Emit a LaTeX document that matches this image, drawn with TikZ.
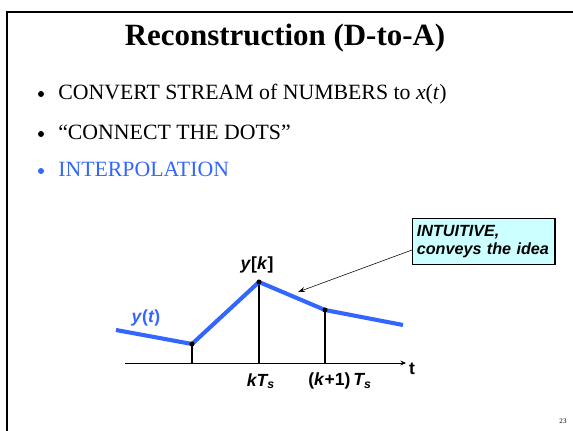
\documentclass[tikz,border=0pt]{standalone}
\usepackage{fontspec}
\setmainfont{Liberation Serif}
\newfontfamily\arialfont{Liberation Sans}
\usetikzlibrary{arrows.meta}
\definecolor{slideblue}{RGB}{51,102,255}
\definecolor{notecyan}{RGB}{204,255,255}

\tikzset{
	signal/.style={slideblue, line width=2.9pt, line join=round},
	stem/.style={line width=1.4pt},
	sample/.style={circle, fill=black, inner sep=0pt, minimum size=3.6pt},
	plotlabel/.style={font=\arialfont\bfseries\fontsize{12.5}{14}\selectfont, inner sep=0pt},
	bulletline/.style={anchor=base west, inner sep=0pt, font=\fontsize{15.5}{18}\selectfont}
}

\begin{document}
\begin{tikzpicture}[x=0.025cm, y=-0.025cm]
	\useasboundingbox (0, 0) rectangle (573, 431);
	% Slide frame and text:
	\draw[line width=1.8pt] (7, 431) -- (7, 12) -- (573, 12);
	\node[anchor=base, inner sep=0pt, font=\bfseries\fontsize{22}{26}\selectfont] (title) at (285, 46){Reconstruction (D-to-A)};
	\node[bulletline] (convert) at (58, 100){CONVERT STREAM of NUMBERS to \textit{x}(\textit{t})};
	\node[bulletline] (dots) at (58, 140){``CONNECT THE DOTS''};
	\node[bulletline, text=slideblue] (interp) at (58, 177){INTERPOLATION};
	\foreach \yb/\col in {100/black, 140/black, 177/slideblue}
		\fill[\col] (41, \yb-6) circle (3);
	\node[anchor=center, inner sep=0pt, font=\fontsize{5}{6}\selectfont] (page) at (563, 421){23};
	% Axis, samples and signal:
	\coordinate (axisstart) at (125, 363);
	\coordinate (axisend) at (406, 363);
	\draw[line width=0.7pt, -{Stealth[length=4pt, width=3.5pt]}] (axisstart) -- (axisend);
	\node[plotlabel] (tlabel) at (412, 369){t};
	\coordinate (left) at (116, 330);
	\coordinate (s0) at (192, 344);
	\coordinate (s1) at (259, 282);
	\coordinate (s2) at (325, 310);
	\coordinate (right) at (403, 325);
	\foreach \s in {s0, s1, s2}
		\draw[stem] (\s) -- (\s |- axisstart);
	\draw[signal] (left) -- (s0) -- (s1) -- (s2) -- (right);
	\foreach \s in {s0, s1, s2}
		\node[sample] at (\s){};
	\node[plotlabel, text=slideblue] (ylabel) at (146, 318){\textit{y}(\textit{t})};
	\node[plotlabel] (yk) at (257, 265){\textit{y}[\textit{k}]};
	\node[plotlabel] (kts) at (261, 381){\textit{kT\textsubscript{s}}};
	\node[plotlabel] (k1ts) at (340, 381){(\textit{k}+1)\,\textit{T\textsubscript{s}}};
	% Callout:
	\node[draw, line width=0.8pt, fill=notecyan, align=left, anchor=north west, minimum width=142*0.025cm, minimum height=46*0.025cm, inner xsep=3pt, inner ysep=3pt, font=\arialfont\bfseries\itshape\fontsize{11.5}{13}\selectfont, text width=134*0.025cm] (note) at (412, 218){INTUITIVE,\\conveys the idea};
	\coordinate (tip) at (298, 292);
	\draw[line width=0.4pt, -{Stealth[length=5pt, width=3.5pt]}] ([yshift=-0.8cm]note.north west) -- (tip);
\end{tikzpicture}
\end{document}
